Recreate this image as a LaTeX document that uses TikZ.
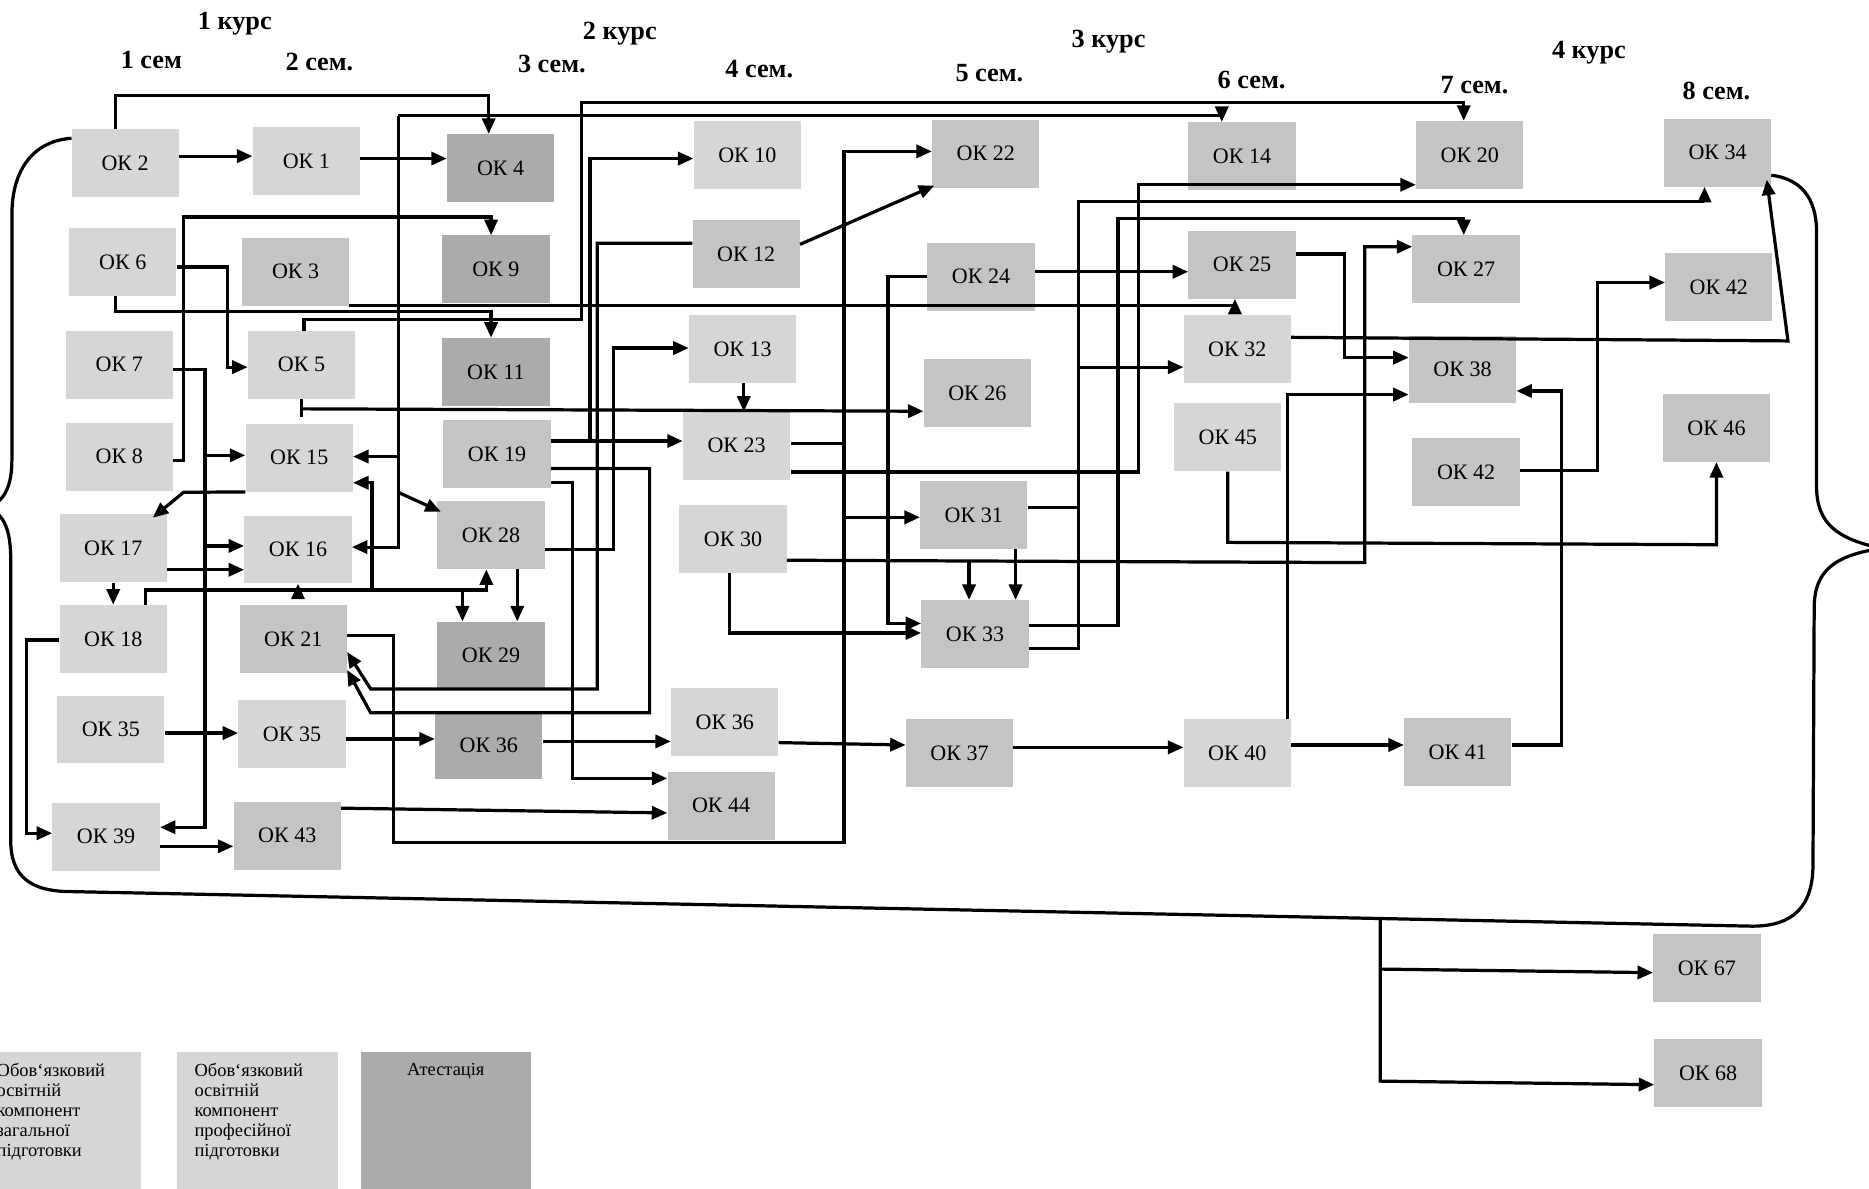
\documentclass[tikz,border=0pt]{standalone}
\usepackage{fontspec}
\setmainfont{Liberation Serif}
\usetikzlibrary{arrows.meta,calc}
\definecolor{genc}{gray}{0.84}
\definecolor{profc}{gray}{0.77}
\definecolor{attc}{gray}{0.67}
\tikzset{
 okbox/.style={draw=none, minimum width=90pt, minimum height=57pt, inner sep=0pt, font=\fontsize{18.5}{20}\selectfont},
 gen/.style={okbox, fill=genc},
 prof/.style={okbox, fill=profc},
 att/.style={okbox, fill=attc},
 ln/.style={line width=2.7pt, line join=miter},
 arr/.style={ln, -{Triangle[length=13pt,width=11pt]}},
 hdr/.style={font=\bfseries\fontsize{22}{24}\selectfont, inner sep=0pt},
 legtxt/.style={font=\fontsize{15.5}{16.8}\selectfont, align=left, inner sep=0pt},
}
\begin{document}
\begin{tikzpicture}[x=1pt,y=-1pt]
\useasboundingbox (0,0) rectangle (1568,997);
% headers
\node[hdr] (k1) at (197,20) {1 курс};
\node[hdr] (s1) at (127,50) {1 сем};
\node[hdr] (s2) at (268,52) {2 сем.};
\node[hdr] (k2) at (520,28) {2 курс};
\node[hdr] (s3) at (463,54) {3 сем.};
\node[hdr] (s4) at (637,58) {4 сем.};
\node[hdr] (s5) at (830,61) {5 сем.};
\node[hdr] (k3) at (930,35) {3 курс};
\node[hdr] (s6) at (1050,67) {6 сем.};
\node[hdr] (s7) at (1237,71) {7 сем.};
\node[hdr] (k4) at (1333,44) {4 курс};
\node[hdr] (s8) at (1440,76) {8 сем.};
% nodes
\node[gen] (ok2) at (105,137) {ОК 2};
\node[gen] (ok6) at (103,220) {ОК 6};
\node[gen] (ok7) at (100,306) {ОК 7};
\node[gen] (ok8) at (100,383) {ОК 8};
\node[gen] (ok17) at (95,460) {ОК 17};
\node[gen] (ok18) at (95,536) {ОК 18};
\node[gen] (ok35a) at (93,612) {ОК 35};
\node[gen] (ok39) at (89,702) {ОК 39};
\node[gen] (ok1) at (257,135) {ОК 1};
\node[prof] (ok3) at (248,228) {ОК 3};
\node[gen] (ok5) at (253,306) {ОК 5};
\node[gen] (ok15) at (251,384) {ОК 15};
\node[gen] (ok16) at (250,461) {ОК 16};
\node[prof] (ok21) at (246,536) {ОК 21};
\node[gen] (ok35b) at (245,616) {ОК 35};
\node[prof] (ok43) at (241,701) {ОК 43};
\node[att] (ok4) at (420,141) {ОК 4};
\node[att] (ok9) at (416,226) {ОК 9};
\node[att] (ok11) at (416,312) {ОК 11};
\node[prof] (ok19) at (417,381) {ОК 19};
\node[prof] (ok28) at (412,449) {ОК 28};
\node[att] (ok29) at (412,550) {ОК 29};
\node[att] (ok36c) at (410,625) {ОК 36};
\node[gen] (ok10) at (627,130) {ОК 10};
\node[prof] (ok12) at (626,213) {ОК 12};
\node[gen] (ok13) at (623,293) {ОК 13};
\node[gen] (ok23) at (618,374) {ОК 23};
\node[gen] (ok30) at (615,452) {ОК 30};
\node[gen] (ok36d) at (608,606) {ОК 36};
\node[prof] (ok44) at (605,676) {ОК 44};
\node[prof] (ok22) at (827,129) {ОК 22};
\node[prof] (ok24) at (823,232) {ОК 24};
\node[prof] (ok26) at (820,330) {ОК 26};
\node[prof] (ok31) at (817,432) {ОК 31};
\node[prof] (ok33) at (818,532) {ОК 33};
\node[prof] (ok37) at (805,632) {ОК 37};
\node[prof] (ok14) at (1042,131) {ОК 14};
\node[prof] (ok25) at (1042,222) {ОК 25};
\node[gen] (ok32) at (1038,293) {ОК 32};
\node[gen] (ok45) at (1030,367) {ОК 45};
\node[gen] (ok40) at (1038,632) {ОК 40};
\node[prof] (ok20) at (1233,130) {ОК 20};
\node[prof] (ok27) at (1230,226) {ОК 27};
\node[prof] (ok38) at (1227,310) {ОК 38};
\node[prof] (ok42a) at (1230,396) {ОК 42};
\node[prof] (ok41) at (1223,631) {ОК 41};
\node[prof] (ok34) at (1441,128) {ОК 34};
\node[prof] (ok42b) at (1442,241) {ОК 42};
\node[prof] (ok46) at (1440,359) {ОК 46};
\node[prof] (ok67) at (1432,812) {ОК 67};
\node[prof] (ok68) at (1433,900) {ОК 68};
% brace
\draw[ln] (60,116) .. controls (30,118) and (10,140) .. (10,180) -- (10,385)
  .. controls (10,408) and (4,420) .. (-10,426) .. controls (4,432) and (9,445) .. (9,470)
  -- (9,705) .. controls (9,735) and (25,748) .. (60,748) -- (1470,777)
  .. controls (1505,777) and (1521,760) .. (1521,725) -- (1522,510)
  .. controls (1522,478) and (1540,466) .. (1578,460) .. controls (1542,452) and (1524,440) .. (1524,408)
  -- (1524,195) .. controls (1524,165) and (1510,150) .. (1486,147);
% connectors
\draw[arr] (ok2.east |- 0,131) -- (ok1.west |- 0,131);
\draw[arr] (ok1.east |- 0,133) -- (ok4.west |- 0,133);
\draw[arr] (97,0 |- ok2.north) -- (97,80) -- (410,80) -- (410,0 |- ok4.north);
\draw[arr] (255,0 |- ok5.north) -- (255,268) -- (488,268) -- (488,86) -- (1228,86) -- (1228,0 |- ok20.north);
\coordinate (b14) at (334,97);
\draw[arr] (b14) -- (1025,97) -- (1025,0 |- ok14.north);
\draw[arr] (b14) -- (334,459) -- (ok16.east |- 0,459);
\draw[arr] (334,383) -- (ok15.east |- 0,383);
\draw[arr] (334,413) -- ($(ok28.north west)+(3,9)$);
\draw[arr] (97,0 |- ok6.south) -- (97,261) -- (412,261) -- (412,0 |- ok11.north);
\draw[arr] (ok6.east |- 0,224) -- (191,224) -- (191,308) -- (ok5.west |- 0,308);
\draw[arr] (ok8.east |- 0,386) -- (154,386) -- (154,182) -- (412,182) -- (412,0 |- ok9.north);
\draw[arr] (ok7.east |- 0,310) -- (172,310) -- (172,694) -- (ok39.east |- 0,694);
\draw[arr] (172,382) -- (ok15.west |- 0,382);
\draw[arr] (172,458) -- (ok16.west |- 0,458);
\draw[arr] (ok17.east |- 0,478) -- (ok16.west |- 0,478);
\draw[arr] (ok15.south west) -- (154,413) -- ($(ok17.north east)+(-12,3)$);
\draw[arr] (95,0 |- ok17.south) -- (95,0 |- ok18.north);
\draw[arr] (122,0 |- ok18.north) -- (122,495) -- (408,495) -- (408,0 |- ok28.south);
\draw[arr] (250,495) -- (ok16.south);
\draw[arr] (312,495) -- (312,405) -- (ok15.east |- 0,405);
\draw[arr] (388,495) -- (388,0 |- ok29.north);
\draw[arr] (434,0 |- ok28.south) -- (434,0 |- ok29.north);
\draw[arr] (ok18.west |- 0,537) -- (22,537) -- (22,699) -- (ok39.west |- 0,699);
\draw[arr] (ok39.east |- 0,710) -- (ok43.west |- 0,710);
\draw[arr] (ok35a.east |- 0,615) -- (ok35b.west |- 0,615);
\draw[arr] (ok35b.east |- 0,620) -- (ok36c.west |- 0,620);
\draw[arr] (ok36c.east |- 0,622) -- (ok36d.west |- 0,622);
\draw[arr] (ok36d.east |- 0,623) -- (ok37.west |- 0,625);
\draw[arr] (ok37.east |- 0,627) -- (ok40.west |- 0,627);
\draw[arr] (ok40.east |- 0,625) -- (ok41.west |- 0,625);
\draw[arr] (ok43.east |- 0,678) -- (ok44.west |- 0,682);
\draw[arr] (ok21.east |- 0,533) -- (330,533) -- (330,707) -- (708,707) -- (708,127) -- (ok22.west |- 0,127);
\draw[arr] (708,434) -- (ok31.west |- 0,434);
\draw[ln] (ok23.east |- 0,372) -- (708,372);
\draw[arr] (ok12.east |- 0,205) -- ($(ok22.south west)+(2,-2)$);
\draw[arr] (ok12.west |- 0,204) -- (501,204) -- (501,578) -- (311,578) -- (ok21.east |- 0,547);
\draw[arr] (ok19.east |- 0,393) -- (545,393) -- (545,598) -- (311,598) -- (ok21.east |- 0,562);
\draw[arr] (ok19.east |- 0,370) -- (ok23.west |- 0,370);
\draw[arr] (495,370) -- (495,133) -- (ok10.west |- 0,133);
\draw[arr] (ok19.east |- 0,405) -- (480,405) -- (480,653) -- (ok44.west |- 0,653);
\draw[arr] (ok28.east |- 0,461) -- (515,461) -- (515,292) -- (ok13.west |- 0,292);
\draw[ln] (ok5.south) -- (253,350);
\draw[arr] (253,343) -- (ok26.west |- 0,345);
\draw[arr] (624,0 |- ok13.south) -- (624,0 |- ok23.north);
\draw[arr] (ok3.east |- 0,256) -- (1036,256) -- (1036,0 |- ok25.south);
\draw[arr] (ok24.east |- 0,228) -- (ok25.west |- 0,228);
\draw[arr] (ok24.west |- 0,232) -- (745,232) -- (745,523) -- (ok33.west |- 0,523);
\draw[arr] (612,0 |- ok30.south) -- (612,531) -- (ok33.west |- 0,531);
\draw[arr] (ok30.east |- 0,470) -- (1145,472) -- (1145,207) -- (ok27.west |- 0,207);
\draw[arr] (813,471) -- (813,0 |- ok33.north);
\draw[arr] (852,0 |- ok31.south) -- (852,0 |- ok33.north);
\draw[arr] (ok23.east |- 0,396) -- (955,396) -- (955,155) -- (ok20.west |- 0,155);
\draw[arr] (ok33.east |- 0,544) -- (905,544) -- (905,169) -- (1430,169) -- (1430,0 |- ok34.south);
\draw[ln] (ok31.east |- 0,426) -- (905,426);
\draw[arr] (905,308) -- (ok32.west |- 0,308);
\draw[arr] (ok33.east |- 0,525) -- (938,525) -- (938,183) -- (1228,183) -- (1228,0 |- ok27.north);
\draw[arr] (ok25.east |- 0,213) -- (1128,213) -- (1128,300) -- (ok38.west |- 0,300);
\draw[arr] (1080,0 |- ok40.north) -- (1080,331) -- (ok38.west |- 0,331);
\draw[arr] (ok32.east |- 0,283) -- (1500,286) -- ($(ok34.south east)+(-4,-6)$);
\draw[arr] (ok42a.east |- 0,395) -- (1340,395) -- (1340,237) -- (ok42b.west |- 0,237);
\draw[arr] (ok41.east |- 0,625) -- (1310,625) -- (1310,328) -- (ok38.east |- 0,328);
\draw[arr] (1030,0 |- ok45.south) -- (1030,455) -- (1440,457) -- (1440,0 |- ok46.south);
\coordinate (bj) at (1158,770);
\draw[arr] (bj) -- (1158,907) -- (ok68.west |- 0,910);
\draw[arr] (1158,813) -- (ok67.west |- 0,816);
% legend
\node[gen, minimum width=128pt, minimum height=120pt, anchor=north west] (lg1) at (-10,882) {};
\node[gen, minimum width=135pt, minimum height=120pt, anchor=north west] (lg2) at (148,882) {};
\node[att, minimum width=142pt, minimum height=120pt, anchor=north west] (lg3) at (303,882) {};
\node[legtxt, anchor=north west] (lt1) at (-3,892) {Обов`язковий\\освітній\\компонент\\загальної\\підготовки};
\node[legtxt, anchor=north west] (lt2) at (163,892) {Обов`язковий\\освітній\\компонент\\професійної\\підготовки};
\node[legtxt, anchor=north] (lt3) at (374,892) {Атестація};
\end{tikzpicture}
\end{document}
